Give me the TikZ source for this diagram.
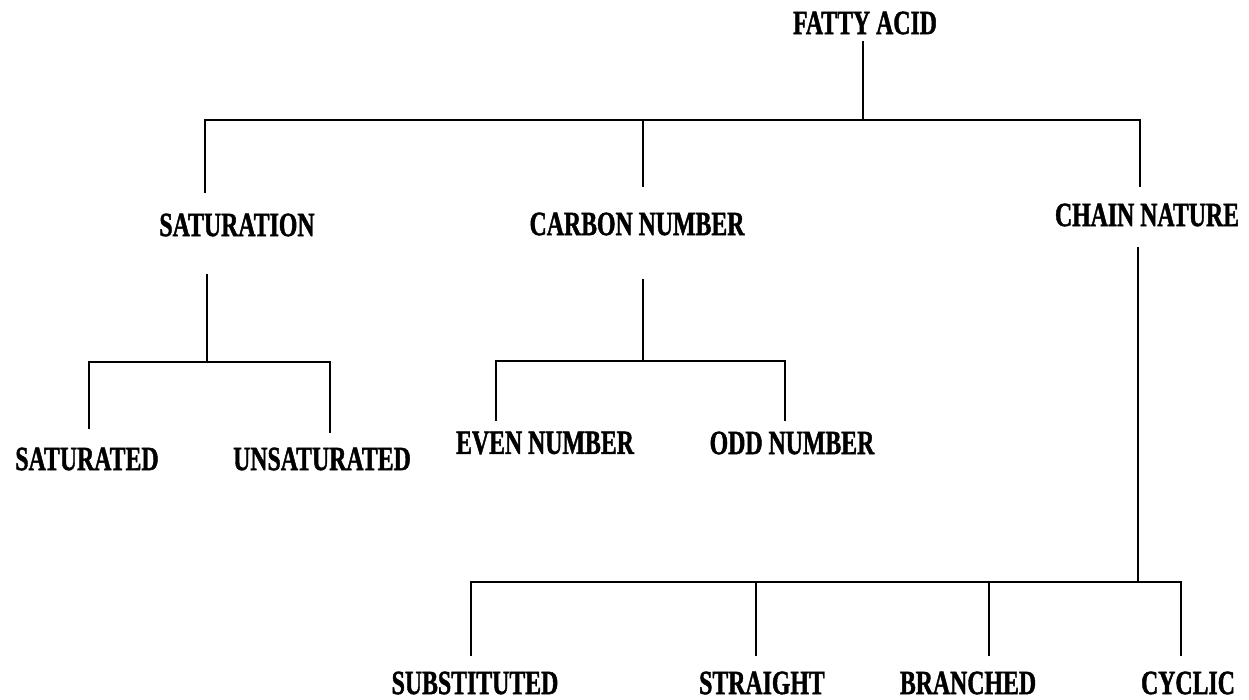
\documentclass[tikz,border=0pt]{standalone}
\usepackage{fontspec}
\newfontfamily\labfont[FakeStretch=0.7,FakeBold=1.2]{Liberation Serif}
\begin{document}
\begin{tikzpicture}[x=1pt,y=-1pt,
  lbl/.style={inner sep=0pt,font=\labfont\bfseries\fontsize{34}{40}\selectfont},
  conn/.style={line width=2.2pt,line cap=rect,black}]
\fill[white] (0,0) rectangle (1249,699);
\useasboundingbox (0,0) rectangle (1249,699);
% labels
\node[lbl] (fa) at (865,23) {FATTY ACID};
\node[lbl] (sat) at (237,225) {SATURATION};
\node[lbl] (carb) at (637,224) {CARBON NUMBER};
\node[lbl] (chain) at (1147,215) {CHAIN NATURE};
\node[lbl] (satd) at (87,459) {SATURATED};
\node[lbl] (unsat) at (322,459) {UNSATURATED};
\node[lbl] (even) at (545,443) {EVEN NUMBER};
\node[lbl] (odd) at (792,443) {ODD NUMBER};
\node[lbl] (sub) at (475,683) {SUBSTITUTED};
\node[lbl] (str) at (762,683) {STRAIGHT};
\node[lbl] (bra) at (968,683) {BRANCHED};
\node[lbl] (cyc) at (1188,683) {CYCLIC};
% root level
\coordinate (faT) at (863,42);
\coordinate (faB) at (863,120);
\coordinate (satT) at (205,192);
\coordinate (carbT) at (643,186);
\coordinate (chainT) at (1140,186);
\draw[conn] (faT) -- (faB);
\draw[conn] (satT) -- (satT |- faB) -- (chainT |- faB) -- (chainT);
\draw[conn] (carbT) -- (carbT |- faB);
% saturation
\coordinate (satS) at (207,275);
\coordinate (satJ) at (207,362);
\coordinate (satdT) at (89,428);
\coordinate (unsatT) at (330,432);
\draw[conn] (satS) -- (satJ);
\draw[conn] (satdT) -- (satdT |- satJ) -- (unsatT |- satJ) -- (unsatT);
% carbon
\coordinate (carbS) at (643,280);
\coordinate (carbJ) at (643,361);
\coordinate (evenT) at (496,420);
\coordinate (oddT) at (785,420);
\draw[conn] (carbS) -- (carbJ);
\draw[conn] (evenT) -- (evenT |- carbJ) -- (oddT |- carbJ) -- (oddT);
% chain
\coordinate (chainS) at (1138,248);
\coordinate (chainJ) at (1138,582);
\coordinate (subT) at (471,655);
\coordinate (strT) at (756,655);
\coordinate (braT) at (989,655);
\coordinate (cycT) at (1181,655);
\draw[conn] (chainS) -- (chainJ);
\draw[conn] (subT) -- (subT |- chainJ) -- (cycT |- chainJ) -- (cycT);
\draw[conn] (strT) -- (strT |- chainJ);
\draw[conn] (braT) -- (braT |- chainJ);
\end{tikzpicture}
\end{document}
